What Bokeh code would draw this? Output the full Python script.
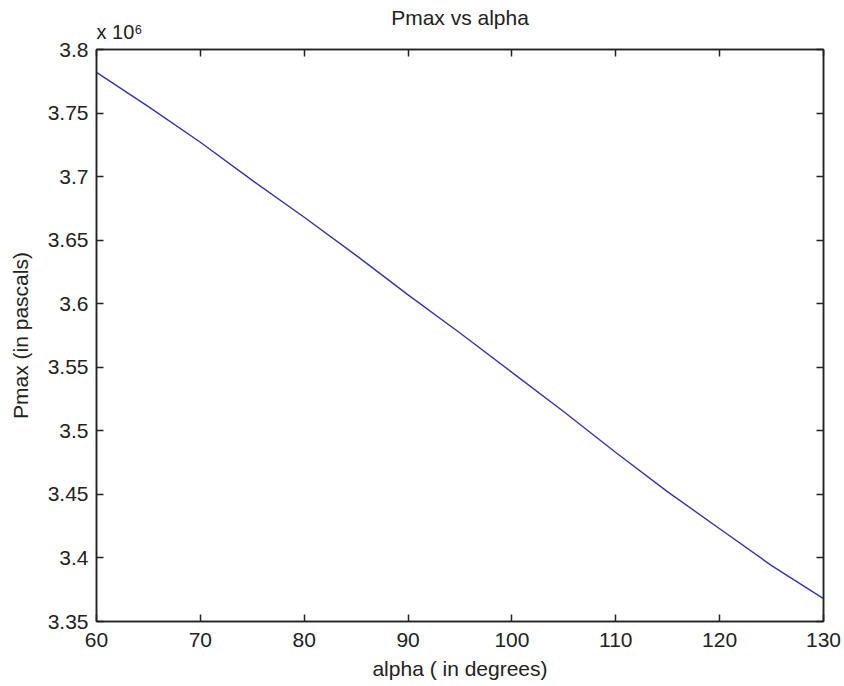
from bokeh.plotting import figure
from bokeh.models import (Range1d, FixedTicker, LinearAxis, CustomJSTickFormatter, Title)
from bokeh.embed import file_html
from bokeh.resources import INLINE

# Data (alpha in degrees, Pmax in pascals)
alpha = [60, 65, 70, 75, 80, 85, 90, 95, 100, 105, 110, 115, 120, 125, 130]
pmax = [3.782e6, 3.755e6, 3.727e6, 3.697e6, 3.668e6, 3.638e6, 3.607e6, 3.577e6,
        3.546e6, 3.515e6, 3.483e6, 3.452e6, 3.423e6, 3.394e6, 3.368e6]

x_ticks = [60, 70, 80, 90, 100, 110, 120, 130]
y_ticks = [3.35e6, 3.40e6, 3.45e6, 3.50e6, 3.55e6, 3.60e6, 3.65e6, 3.70e6, 3.75e6, 3.80e6]

FONT = "Liberation Sans"
TXT = "#222222"
FS = "21px"

p = figure(width=844, height=686, output_backend="svg", toolbar_location=None,
           x_range=Range1d(60, 130), y_range=Range1d(3.35e6, 3.8e6),
           min_border_left=96, min_border_right=21, min_border_top=49, min_border_bottom=65,
           title="Pmax vs alpha")
p.background_fill_color = "white"
p.border_fill_color = "white"
p.outline_line_color = "#222222"
p.outline_line_width = 1.5
p.xgrid.visible = False
p.ygrid.visible = False

p.title.align = "center"
p.title.text_font = FONT
p.title.text_font_size = FS
p.title.text_font_style = "normal"
p.title.text_color = TXT
p.title.standoff = -35

p.line(alpha, pmax, line_color="#3535a5", line_width=1.4)

xfmt = CustomJSTickFormatter(code="return String(tick);")
yfmt = CustomJSTickFormatter(code="return String(Math.round(tick/1e4)/100);")

def style(ax, ticks, fmt, show_labels=True):
    ax.ticker = FixedTicker(ticks=ticks)
    ax.formatter = fmt
    ax.major_tick_in = 7
    ax.major_tick_out = 0
    ax.minor_tick_line_color = None
    ax.axis_line_color = "#222222"
    ax.axis_line_width = 1.5
    ax.major_tick_line_color = "#222222"
    ax.major_tick_line_width = 1.5
    ax.major_label_text_font = FONT
    ax.major_label_text_color = TXT
    ax.axis_label_text_font = FONT
    ax.axis_label_text_color = TXT
    ax.axis_label_text_font_style = "normal"
    ax.axis_label_text_font_size = FS
    if show_labels:
        ax.major_label_text_font_size = FS
    else:
        ax.major_label_text_font_size = "0px"
        ax.major_label_text_color = None
        ax.major_label_standoff = 0

xa = p.xaxis[0]
style(xa, x_ticks, xfmt)
xa.axis_label = "alpha ( in degrees)"
xa.major_label_standoff = 11
xa.axis_label_standoff = 7

ya = p.yaxis[0]
style(ya, y_ticks, yfmt)
ya.axis_label = "Pmax (in pascals)"
ya.major_label_standoff = 8
ya.axis_label_standoff = 13

top = LinearAxis()
style(top, x_ticks, xfmt, show_labels=False)
p.add_layout(top, "above")
right = LinearAxis()
style(right, y_ticks, yfmt, show_labels=False)
p.add_layout(right, "right")

# exponent of the y axis
exp_title = Title(text="x 10\u2076", align="left", text_font=FONT, text_font_size="20px",
                  text_font_style="normal", text_color=TXT, standoff=14)
p.add_layout(exp_title, "above")

open("out.html", "w").write(file_html(p, INLINE))
